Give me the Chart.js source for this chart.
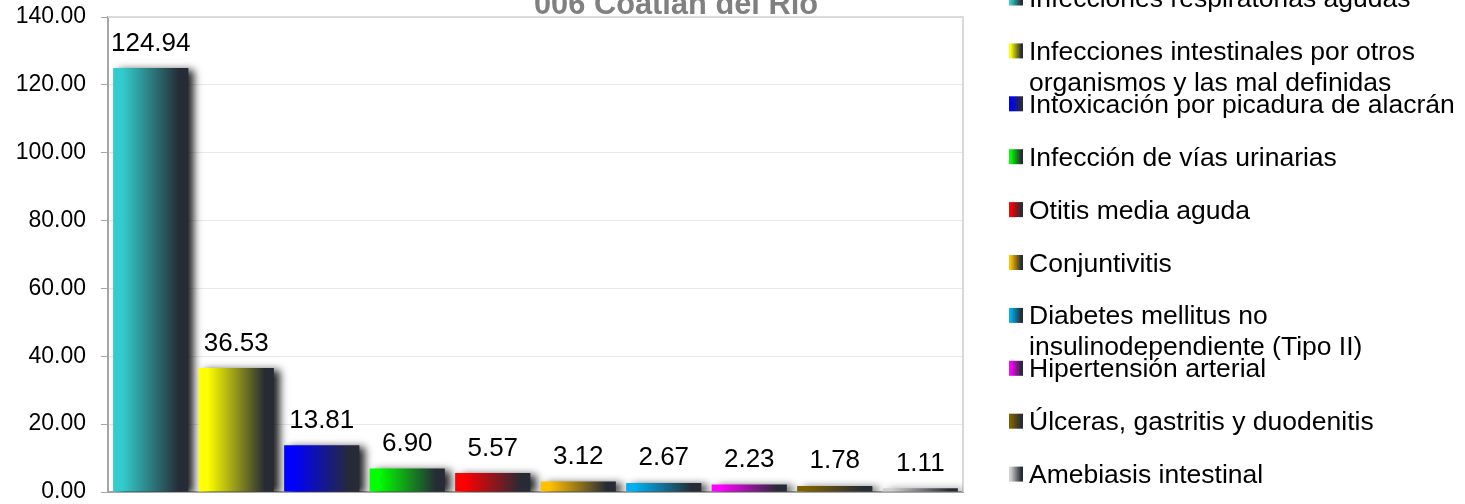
<!DOCTYPE html>
<html><head><meta charset="utf-8">
<script src="https://cdn.jsdelivr.net/npm/chart.js@4/dist/chart.umd.min.js"></script>
<style>html,body{margin:0;padding:0;background:#fff;}#wrap{width:1465px;height:504px;position:relative;}</style>
</head><body><div id="wrap"><canvas id="c" width="1465" height="504"></canvas></div>
<script>
const chartTitle = '006 Coatlán del Río';
const categories = [
  'Infecciones respiratorias agudas',
  'Infecciones intestinales por otros\norganismos y las mal definidas',
  'Intoxicación por picadura de alacrán',
  'Infección de vías urinarias',
  'Otitis media aguda',
  'Conjuntivitis',
  'Diabetes mellitus no\ninsulinodependiente (Tipo II)',
  'Hipertensión arterial',
  'Úlceras, gastritis y duodenitis',
  'Amebiasis intestinal'
];
const values = [124.94, 36.53, 13.81, 6.90, 5.57, 3.12, 2.67, 2.23, 1.78, 1.11];
const colors = ['#33CCCC','#FFFF00','#0000FF','#00FF00','#FF0000','#FFC000','#00B0F0','#FF00FF','#7F6000','#D0D0D0'];
const yTicks = [0, 20, 40, 60, 80, 100, 120, 140];

const DARK = '#262b35';
const FONT = "'Liberation Sans', Arial, sans-serif";

function grad(c, x0, x1, col) {
  const g = c.createLinearGradient(x0, 0, x1, 0);
  g.addColorStop(0, col);
  g.addColorStop(0.12, col);
  g.addColorStop(0.88, DARK);
  g.addColorStop(1, DARK);
  return g;
}

const decor = {
  id: 'decor',
  beforeDatasetsDraw(chart) {
    const c = chart.ctx, a = chart.chartArea;
    c.save();
    c.strokeStyle = '#d9d9d9'; c.lineWidth = 2;
    c.beginPath();
    c.moveTo(a.left, a.top); c.lineTo(a.right, a.top); c.lineTo(a.right, a.bottom);
    c.stroke();
    c.restore();
    c.save();
    c.shadowColor = 'rgba(0,0,0,0.85)';
    c.shadowBlur = 8;
    c.shadowOffsetX = 6;
    c.shadowOffsetY = 2;
  },
  afterDatasetsDraw(chart) {
    const c = chart.ctx;
    c.restore();
    const meta = chart.getDatasetMeta(0);
    c.save();
    c.font = '26px ' + FONT;
    c.fillStyle = '#000';
    c.textAlign = 'center';
    c.textBaseline = 'alphabetic';
    meta.data.forEach((el, i) => {
      c.fillText(values[i].toFixed(2), el.x, el.y - 17.5);
    });
    c.restore();
  },
  afterDraw(chart) {
    const c = chart.ctx;
    c.save();
    c.font = 'bold 30.8px ' + FONT;
    c.fillStyle = '#808080';
    c.textAlign = 'center';
    c.textBaseline = 'alphabetic';
    c.fillText(chartTitle, 676, 14);
    c.font = '26.5px ' + FONT;
    c.fillStyle = '#000';
    c.textAlign = 'left';
    categories.forEach((cat, i) => {
      const cy = -2 + 52.9 * i;
      c.fillStyle = grad(c, 1009, 1023, colors[i]);
      c.fillRect(1009, cy - 7.5, 14, 15);
      c.fillStyle = '#000';
      cat.split('\n').forEach((ln, j) => c.fillText(ln, 1029, cy + 9 + j * 31));
    });
    c.restore();
  }
};

new Chart(document.getElementById('c'), {
  type: 'bar',
  data: {
    labels: categories,
    datasets: [{
      data: values,
      barPercentage: 0.88,
      categoryPercentage: 1,
      borderWidth: 0,
      backgroundColor: ctx => {
        const chart = ctx.chart, xs = chart.scales && chart.scales.x;
        const col = colors[ctx.dataIndex] || '#888';
        if (!xs || ctx.type !== 'data') return col;
        const cx = xs.getPixelForValue(ctx.dataIndex);
        const w = (xs.width / categories.length) * 0.88;
        if (!isFinite(cx) || !isFinite(w) || w <= 0) return col;
        return grad(chart.ctx, cx - w / 2, cx + w / 2, col);
      }
    }]
  },
  options: {
    responsive: false,
    animation: false,
    events: [],
    layout: { padding: { left: 0, top: 17, right: 502, bottom: 12 } },
    plugins: { legend: { display: false }, title: { display: false }, tooltip: { enabled: false } },
    scales: {
      x: {
        ticks: { display: false },
        grid: { display: false, drawTicks: false },
        border: { color: '#a6a6a6', width: 2 },
        afterFit: s => { s.height = 0; s.paddingLeft = 0; s.paddingRight = 0; s.paddingTop = 0; s.paddingBottom = 0; }
      },
      y: {
        min: 0, max: 140,
        afterBuildTicks: s => { s.ticks = yTicks.map(v => ({ value: v })); },
        ticks: { callback: v => Number(v).toFixed(2), font: { family: FONT, size: 23 }, color: '#000', padding: 15 },
        grid: {
          color: ctx => (ctx.tick && (ctx.tick.value === 0 || ctx.tick.value === 140)) ? 'rgba(0,0,0,0)' : '#e8e8e8',
          tickColor: '#a6a6a6', tickLength: 7
        },
        border: { color: '#a6a6a6', width: 2 },
        afterFit: s => { s.width = 108; s.paddingTop = 0; s.paddingBottom = 0; s.paddingLeft = 0; s.paddingRight = 0; }
      }
    }
  },
  plugins: [decor]
});
</script></body></html>
